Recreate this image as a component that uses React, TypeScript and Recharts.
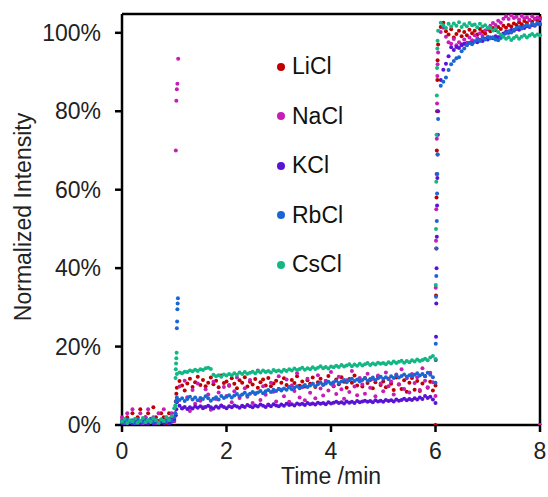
import React from 'react';
import { ScatterChart, Scatter, XAxis, YAxis, ReferenceLine } from 'recharts';

// sampling: 0.05 min between points, segments start at these times
const STEP = 0.05;
const PRE_START = 0;
const MID_START = 1.05;
const POST_START = 6.05;

const seriesNames = ['LiCl', 'NaCl', 'KCl', 'RbCl', 'CsCl'];
const seriesColors = ['#C00000', '#C71DB6', '#5A12D4', '#1A66D2', '#12B784'];

const xTicks = [0, 2, 4, 6, 8];
const yTicks = [0, 20, 40, 60, 80, 100];
const Y_MAX = 104.8;

// ---- LiCl ----
const liPre = [1, 0.5, 2, 1, 3, 0.5, 2, 4, 1, 2, 3, 1, 4.5, 2, 1, 3, 2, 0.5, 3, 2, 1];
const liMid = [
  9.5, 11.2, 10.1, 8.8, 10.6, 11.8, 9.7, 10.9, 12.3, 10.2,
  11.5, 9.9, 10.8, 12.1, 10.4, 11.3, 9.6, 12.6, 10.7, 11.1,
  10.0, 11.9, 10.5, 9.4, 11.4, 10.8, 12.2, 9.8, 11.0, 10.3,
  11.7, 9.5, 10.9, 11.6, 10.1, 12.0, 9.9, 10.6, 11.3, 9.2,
  10.8, 11.9, 10.2, 9.6, 11.5, 10.7, 12.4, 10.0, 11.1, 9.8,
  11.4, 10.5, 12.1, 9.7, 10.9, 11.8, 10.3, 11.2, 12.5, 10.6,
  9.9, 11.6, 10.4, 12.2, 11.0, 9.5, 11.7, 10.8, 12.6, 10.1,
  11.3, 9.8, 12.0, 10.7, 11.5, 9.4, 10.9, 12.3, 10.2, 11.1,
  9.6, 11.8, 10.5, 8.9, 12.1, 10.3, 9.2, 11.4, 8.5, 10.8,
  12.0, 9.0, 11.2, 8.7, 10.6, 12.4, 9.5, 11.0, 8.8, 10.1,
];
const liPost = [
  97.0, 101.5, 102.6, 100.4, 99.6, 100.9, 98.8, 99.7, 100.5, 99.1,
  100.2, 99.4, 100.8, 99.9, 100.5, 99.6, 101.0, 100.3, 99.8, 100.9,
  100.4, 101.2, 100.7, 101.5, 101.0, 101.8, 101.3, 102.0, 101.6, 102.4,
  102.0, 102.7, 102.2, 103.0, 102.5, 103.3, 102.8, 103.6, 103.1, 103.8,
];
const liJumps = [[1.02, 3], [1.03, 6], [1.04, 8], [6.0, 0], [6.01, 33], [6.015, 45], [6.02, 58], [6.025, 70], [6.03, 80], [6.035, 88], [6.04, 93]];

// ---- NaCl ----
const naPre = [2, 0.5, 3, 1, 4, 0.5, 1, 3, 0, 2, 4, 1, 2, 0.5, 3, 1, 4, 2, 0.5, 3, 1];
const naMid = [
  6.5, 9.8, 4.2, 11.3, 7.1, 3.6, 8.9, 5.4, 10.6, 6.2,
  4.5, 9.1, 7.8, 3.9, 11.0, 6.6, 8.3, 5.0, 9.7, 7.4,
  10.2, 5.8, 8.6, 12.1, 6.9, 4.8, 9.4, 7.2, 11.5, 5.6,
  8.1, 13.9, 6.4, 9.9, 7.7, 5.2, 10.8, 8.5, 6.0, 12.4,
  9.0, 7.3, 11.6, 5.9, 10.1, 8.7, 13.2, 7.0, 9.6, 6.3,
  11.8, 8.2, 10.5, 6.8, 12.7, 9.3, 7.5, 11.2, 8.8, 13.5,
  10.0, 7.9, 12.3, 9.1, 6.7, 11.4, 8.4, 13.8, 9.8, 7.6,
  12.0, 10.3, 8.0, 13.1, 9.5, 11.7, 7.3, 12.6, 10.6, 8.6,
  13.4, 9.9, 11.1, 7.8, 12.9, 10.4, 14.2, 9.2, 11.9, 8.3,
  13.0, 10.7, 12.2, 8.9, 14.5, 11.3, 9.6, 13.3, 10.9, 7.4,
];
const naPost = [
  95.0, 100.2, 101.3, 99.0, 97.6, 97.2, 98.4, 96.8, 97.6, 97.1,
  98.3, 97.5, 98.8, 98.1, 99.4, 98.7, 99.9, 99.2, 100.6, 101.1,
  101.8, 102.5, 102.0, 103.1, 102.6, 103.6, 104.2, 103.5, 104.4, 103.8,
  104.1, 103.4, 104.3, 103.7, 104.0, 103.3, 104.2, 103.6, 103.9, 103.5,
];
const naJumps = [[1.03, 70], [1.04, 82.7], [1.05, 85.6], [1.06, 87], [1.075, 93.4], [6.005, 35], [6.01, 47], [6.015, 55], [6.02, 64], [6.025, 73], [6.03, 82], [6.035, 89], [6.04, 92], [8.0, 0]];

// ---- KCl ----
const kPre = [0.5, 1, 0.3, 0.8, 0.2, 1, 0.5, 0.3, 1.2, 0.6, 0.2, 0.9, 0.4, 1, 0.3, 0.7, 0.5, 1.1, 0.4, 0.8, 1.5];
const kMid = [
  5.8, 4.9, 4.3, 4.6, 4.1, 4.5, 4.2, 4.7, 4.4, 4.8,
  4.3, 4.6, 4.9, 4.5, 4.2, 4.7, 4.4, 4.9, 4.6, 4.3,
  4.8, 4.5, 5.0, 4.7, 4.4, 4.9, 4.6, 5.1, 4.8, 4.5,
  5.0, 4.7, 5.2, 4.9, 4.6, 5.1, 4.8, 5.3, 5.0, 4.8,
  5.2, 4.9, 5.4, 5.1, 5.3, 5.0, 5.5, 5.2, 5.4, 5.1,
  5.6, 5.3, 5.5, 5.2, 5.7, 5.4, 5.6, 5.3, 5.8, 5.5,
  5.7, 5.9, 5.6, 5.8, 5.5, 6.0, 5.7, 5.9, 5.6, 6.1,
  5.8, 6.0, 6.2, 5.9, 6.1, 5.8, 6.3, 6.0, 6.2, 5.9,
  6.4, 6.1, 6.3, 6.0, 6.5, 6.2, 6.4, 6.7, 6.3, 6.6,
  6.4, 6.8, 6.5, 7.0, 6.6, 7.4, 6.9, 7.2, 6.5, 5.6,
];
const kPost = [
  80.0, 88.0, 90.6, 92.1, 94.0, 96.3, 95.6, 96.4, 96.1, 96.8,
  97.2, 96.9, 97.5, 97.3, 97.8, 97.6, 98.2, 97.9, 98.5, 98.3,
  98.8, 98.6, 99.1, 98.9, 99.4, 99.8, 100.3, 100.0, 100.7, 100.5,
  101.0, 100.8, 101.4, 101.2, 101.7, 101.5, 102.0, 101.8, 102.3, 102.1,
];
const kJumps = [[1.03, 2.5], [1.04, 4], [6.005, 16.6], [6.01, 22.5], [6.015, 31], [6.02, 40], [6.025, 48], [6.03, 56], [6.035, 63], [6.04, 69], [6.045, 74]];

// ---- RbCl ----
const rbPre = [1, 0.6, 1.4, 0.8, 1.2, 0.5, 1.5, 1, 0.7, 1.3, 0.9, 1.6, 0.8, 1.2, 0.6, 1.4, 1, 0.8, 1.5, 1.1, 2];
const rbMid = [
  7.0, 6.4, 6.8, 6.1, 6.6, 7.2, 6.5, 7.0, 6.3, 6.9,
  6.6, 7.3, 6.8, 6.2, 6.7, 7.1, 6.5, 7.4, 6.9, 7.2,
  7.6, 7.0, 7.5, 7.9, 7.3, 7.8, 8.2, 7.6, 8.0, 8.4,
  7.9, 8.3, 8.7, 8.1, 8.6, 8.9, 8.4, 9.0, 8.7, 9.2,
  8.8, 9.3, 9.0, 9.6, 9.1, 9.5, 9.9, 9.4, 9.8, 10.2,
  9.7, 10.1, 10.5, 9.9, 10.4, 10.8, 10.2, 10.6, 11.0, 10.5,
  10.9, 11.3, 10.7, 11.1, 11.5, 10.9, 11.4, 11.8, 11.2, 11.6,
  11.1, 11.5, 11.9, 11.3, 11.7, 12.1, 11.5, 11.9, 12.3, 11.8,
  12.2, 11.7, 12.4, 12.0, 12.6, 12.1, 12.5, 12.9, 12.3, 12.7,
  12.4, 12.8, 13.2, 12.6, 13.0, 12.5, 13.3, 12.8, 12.2, 10.8,
];
const rbPost = [
  78.0, 86.5, 87.5, 88.6, 90.5, 92.0, 92.8, 93.5, 93.8, 95.3,
  96.0, 96.8, 97.4, 97.1, 97.8, 98.2, 97.9, 98.6, 98.3, 99.0,
  98.6, 98.9, 98.3, 98.1, 98.7, 99.4, 99.9, 100.4, 100.1, 100.8,
  101.2, 101.5, 101.1, 101.7, 102.0, 101.7, 102.3, 102.0, 102.6, 102.3,
];
const rbJumps = [[1.02, 3], [1.035, 6], [1.05, 24.7], [1.055, 26.4], [1.06, 29.5], [1.065, 31], [1.07, 32.3], [6.005, 20.7], [6.01, 32.7], [6.015, 38], [6.02, 45], [6.025, 52], [6.03, 59], [6.035, 64], [6.04, 69]];

// ---- CsCl ----
const csPre = [0.8, 1.5, 0.5, 1.2, 0.9, 1.6, 0.6, 1.1, 1.8, 0.7, 1.3, 0.9, 1.7, 1.2, 0.6, 1.4, 1, 1.9, 1.3, 2.2, 4.3];
const csMid = [
  13.0, 13.4, 13.2, 13.6, 13.5, 13.9, 13.7, 14.1, 13.8, 14.2,
  14.0, 14.5, 14.6, 14.3, 12.8, 12.4, 12.7, 12.3, 12.9, 12.6,
  13.0, 12.7, 13.2, 12.8, 13.4, 13.0, 13.5, 13.1, 13.3, 13.6,
  13.2, 13.7, 13.4, 13.9, 13.5, 13.8, 13.4, 14.0, 13.7, 13.9,
  13.6, 14.1, 13.8, 14.2, 13.9, 14.4, 14.0, 14.3, 14.6, 14.1,
  14.5, 14.2, 14.7, 14.3, 14.6, 15.0, 14.5, 14.8, 14.4, 14.9,
  14.7, 15.1, 14.8, 15.3, 14.9, 15.2, 15.5, 15.0, 15.4, 15.1,
  15.6, 15.2, 15.5, 15.8, 15.3, 15.7, 15.4, 15.9, 15.6, 15.8,
  15.5, 16.0, 15.7, 16.2, 15.8, 16.1, 16.4, 15.9, 16.3, 16.0,
  16.5, 16.2, 16.7, 16.3, 16.6, 16.9, 16.5, 17.2, 17.6, 16.8,
];
const csPost = [
  100.5, 102.6, 101.9, 101.2, 102.3, 101.6, 102.4, 101.8, 102.7, 101.5,
  102.2, 101.7, 102.5, 101.9, 102.1, 101.4, 102.3, 101.6, 101.9, 101.2,
  101.2, 100.6, 101.0, 100.2, 99.6, 99.0, 98.5, 98.9, 98.2, 98.7,
  99.1, 98.5, 99.0, 99.4, 98.8, 99.3, 99.7, 99.2, 99.6, 99.4,
];
const csJumps = [[1.02, 5], [1.025, 12], [1.03, 14.2], [1.035, 15.7], [1.04, 17], [1.045, 18.4], [6.005, 35.7], [6.01, 50], [6.015, 62], [6.02, 74], [6.025, 84], [6.03, 91], [6.035, 96], [6.04, 98]];

const seriesParts = [
  [liPre, liMid, liPost, liJumps],
  [naPre, naMid, naPost, naJumps],
  [kPre, kMid, kPost, kJumps],
  [rbPre, rbMid, rbPost, rbJumps],
  [csPre, csMid, csPost, csJumps],
];

const toPoints = (vals: number[], start: number) =>
  vals.map((y, i) => ({ x: +(start + i * STEP).toFixed(3), y }));

const seriesData = seriesParts.map(([pre, mid, post, jumps]) => [
  ...toPoints(pre as number[], PRE_START),
  ...toPoints(mid as number[], MID_START),
  ...toPoints(post as number[], POST_START),
  ...(jumps as number[][]).map(([x, y]) => ({ x, y })),
]);

const FONT = '"Liberation Sans", Arial, sans-serif';
const tickStyle = { fontSize: 23, fill: '#222', fontFamily: FONT };

const dot = (color: string) => (props: any) =>
  <circle cx={props.cx} cy={props.cy} r={2} fill={color} />;

// legend sits inside the plot, so it's drawn over the chart instead of using <Legend>
const LegendBox = () => (
  <div style={{ position: 'absolute', left: 277, top: 42, fontFamily: FONT, fontSize: 23, color: '#111', lineHeight: 1 }}>
    {seriesNames.map((name, i) => (
      <div key={name} style={{ height: 49.5, display: 'flex', alignItems: 'center' }}>
        <span style={{ width: 8, height: 8, borderRadius: 4, background: seriesColors[i], marginRight: 7 }} />
        <span>{name}</span>
      </div>
    ))}
  </div>
);

export default function App() {
  return (
    <div style={{ position: 'absolute', left: 0, top: 0, width: 548, height: 497, background: '#fff' }}>
      <ScatterChart width={548} height={497} margin={{ top: 14, right: 8, bottom: 0, left: 0 }}>
        <XAxis
          type="number"
          dataKey="x"
          domain={[0, 8]}
          ticks={xTicks}
          height={72}
          stroke="#000"
          strokeWidth={2.5}
          tickSize={7}
          tickMargin={11}
          tick={tickStyle}
        />
        <YAxis
          type="number"
          dataKey="y"
          domain={[0, Y_MAX]}
          allowDataOverflow
          ticks={yTicks}
          width={122}
          stroke="#000"
          strokeWidth={2.5}
          tickSize={7}
          tickMargin={14}
          tick={tickStyle}
          tickFormatter={(v: number) => `${v}%`}
        />
        <ReferenceLine y={Y_MAX} stroke="#000" strokeWidth={2.5} />
        <ReferenceLine x={8} stroke="#000" strokeWidth={2.5} />
        {seriesNames.map((name, i) => (
          <Scatter
            key={name}
            name={name}
            data={seriesData[i]}
            fill={seriesColors[i]}
            shape={dot(seriesColors[i])}
            isAnimationActive={false}
          />
        ))}
        <text x={331} y={484} textAnchor="middle" fontSize={23} fontFamily={FONT} fill="#222">Time /min</text>
        <text x={31} y={217} textAnchor="middle" fontSize={23} fontFamily={FONT} fill="#222" transform="rotate(-90 31 217)">Normalized Intensity</text>
      </ScatterChart>
      <LegendBox />
    </div>
  );
}
